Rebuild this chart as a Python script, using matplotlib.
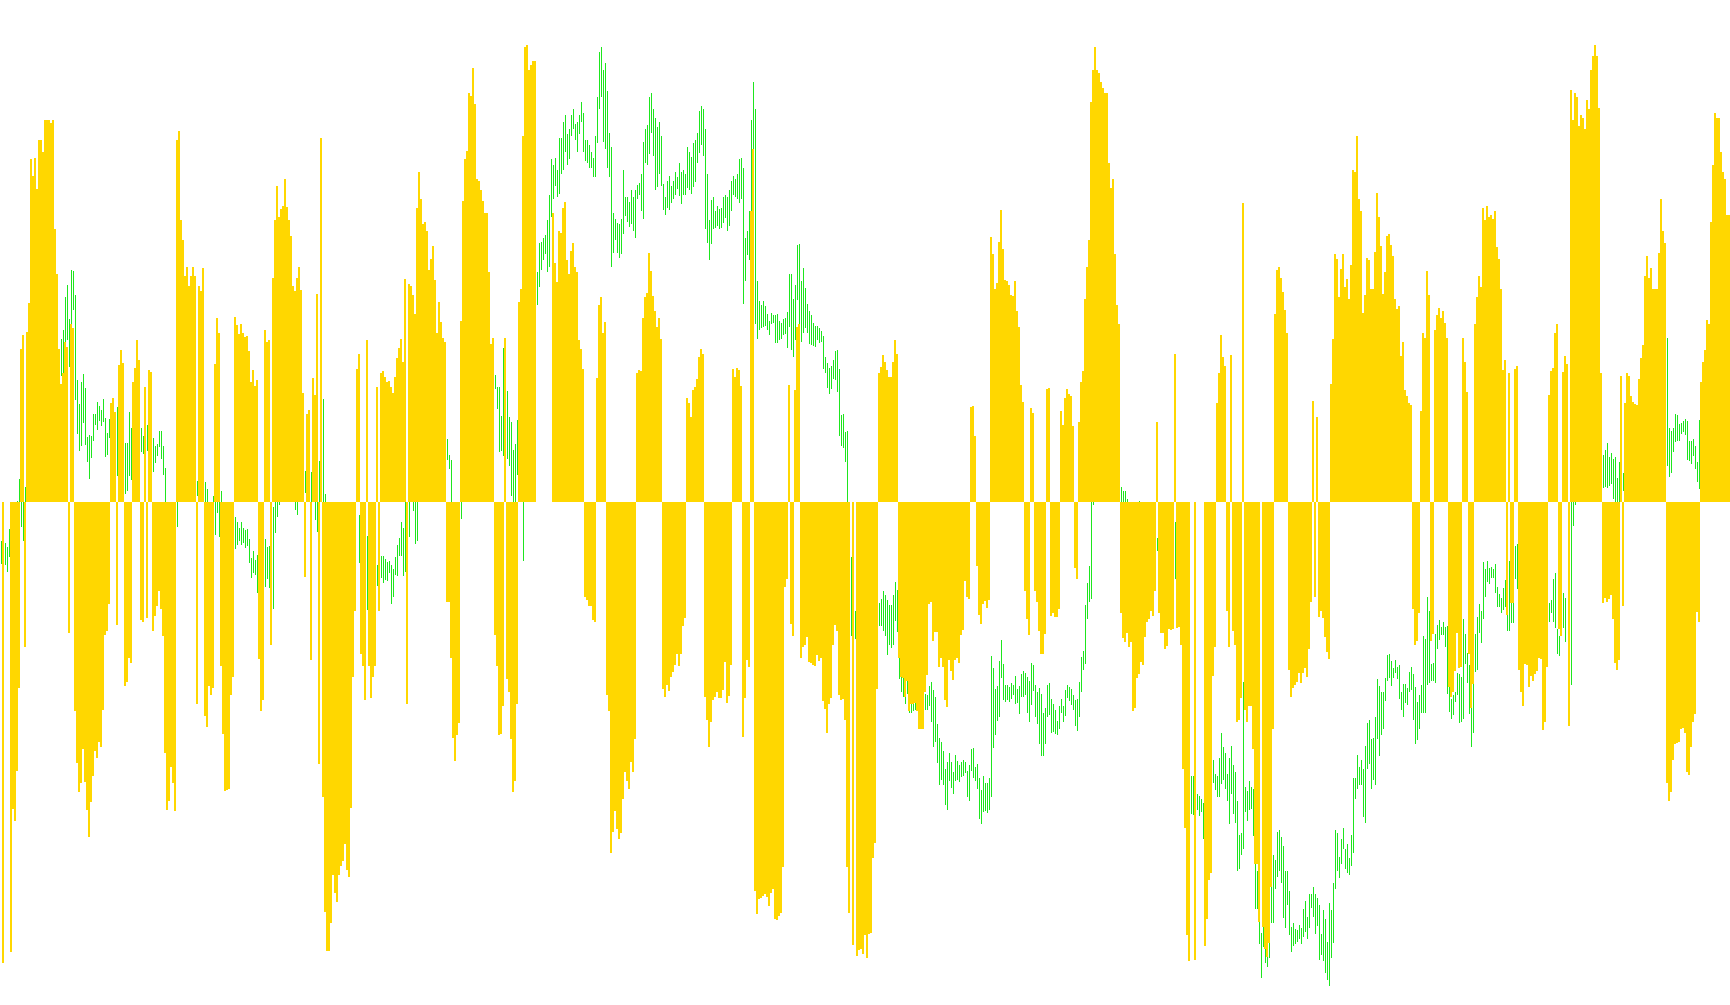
import matplotlib
matplotlib.use("Agg")
import matplotlib.pyplot as plt
import numpy as np

# gold histogram, one value per column, 0 where the column has no gold bar
gold_1 = [0, -718, 0, 0, 0, -701, -478, -496, -418, -290, 239, 261, -225, 266, 311, 534, 509, 537, 488, 564,
          565, 546, 595, 596, 595, 591, 596, 425, 355, 239, 185, 202, 249, 242, -203, 278, 272, -325, -407, -451,
          -437, -385, -436, -479, -521, -467, -427, -387, -399, -374, -381, -323, -207, -200, -159, 154, 163, 141, -191, 214,
          237, 217, -287, -280, -243, -251, 188, 209, 253, 222, -183, -187, 180, -181, 206, 203, -201, -178, -162, -139,
          -167, -209, -390, -479, -465, -412, -437, -481, 564, 579, 440, 409, 353, 367, 337, 353, 367, 352, -315, 337,
          329, 365, -333, -350, -287, -300, -290, 216, 287, 263, -255, -361, -450, -449, -447, -301, -273, 289, 276, 262,
          277, 263, 258, 259, 235, 188, 206, 181, 191, -245, -326, -308, 269, 249, 252, -223, 349, 440, 492, 445,
          457, 462, 503, 460, 439, 415, 337, 329, 349, 367]
gold_2 = [331, 170, -117, 138, 144, -246, 194, 167, 325, -408, 568, -459, -638, -699, -699, -655, -581, -609, -623, -581,
          -567, -559, -532, -573, -584, -476, -273, -170, 207, 231, -237, -255, -308, 252, -255, -305, -273, -255, 180, -169,
          202, 204, 195, 188, 189, 180, 170, 195, 225, 241, 255, 219, 348, -314, 340, 337, 323, 294, 459, 514,
          472, 434, 437, 422, 362, 379, 400, 346, 263, 312, 281, 256, 249, -156, -155, -242, -367, -403, -363, -344,
          283, 470, 535, 548, 638, 633, 676, 620, 504, 501, 487, 470, 450, 451, 358, 247, 256, -207, -255, -363,
          -361, -318, 256, -276, -295, -369, -451, -434, -315, 312, 333, 570, 710, 713, 673, 681, 688, 688, 0, 0,
          0, 0, 0, 0, 0, 0, 450, 372, 343, 423, 420, 459, 468, 378, 356, 391, 404, 367, 359, 252,
          239, 207, -147, -153, -162]
gold_3 = [-161, -184, -186, 194, 308, 319, 264, 281, -300, -325, -546, -513, -481, -509, -524, -515, -462, -421, -434, -446,
          -404, -420, -369, 202, 206, 205, 287, 319, 326, 389, 361, 322, 298, 273, 287, 255, -291, -304, -285, -294,
          -273, -265, -254, -237, -255, -237, -193, -181, 163, 155, 133, 175, 180, 192, 227, 239, 231, -303, -339, -381,
          -343, -308, -304, -296, -305, -305, -293, -249, -313, -302, -253, 207, 195, 209, 206, 181, -365, -305, -246, -256,
          454, 550, -606, -641, -618, -616, -614, -610, -615, -629, -609, -602, -649, -651, -645, -640, -568, -132, -120, 183,
          -189, -208, 175, 273, 278, -242, -226, -223, -210, -249, -251, -253, -255, -238, -247, -242, -309, -322, -359, -315,
          -305, -223, -192, -200, -301, -308, -306, -339, -568, -640, 0, -690, 0, -707, -698, -696, -704, -674, -710, -672,
          -671, -555, -531, -291, 202]
gold_4 = [211, 230, 219, 206, 195, 195, 219, 252, 231, -242, -273, -274, -303, -279, -325, -315, -314, -313, -326, -353,
          -354, -354, -296, -269, -159, -156, -216, -202, -202, -256, -243, -256, -308, -319, -246, -263, -277, -246, -243, -250,
          -207, -199, -123, -148, -150, 149, 150, 103, -99, -176, -190, -159, -154, -164, -153, 414, 387, 333, 342, 405,
          456, 395, 347, 345, 338, 323, 321, 345, 298, 273, 183, 156, -138, -182, -207, 147, 139, -139, -155, -201,
          -236, -236, -206, 177, 178, -177, -173, -179, -179, -166, 142, 120, 163, 177, 168, 166, 119, -103, -120, 125,
          188, 205, 317, 367, 409, 624, 674, 709, 673, 668, 654, 646, 637, 638, 528, 489, 503, 387, 308, 278,
          -173, -212, -217, -203, -225, -217, -326, -320, -274, -267, -249, -253, -210, -186, -182, -169, -178, -139, 125, -173,
          -204, -204, -229, -224, -198]
gold_5 = [-199, -197, 231, -196, -195, -223, -415, -507, -674, -715, 0, 0, -713, 0, 0, 0, 0, -691, -649, -588,
          -577, -270, -226, 154, 202, 261, 227, 212, -169, -226, 230, -201, -223, -343, -340, -305, 467, -323, -342, -318,
          -318, -385, -563, -563, -654, 0, -661, -696, -708, -686, -599, -354, 293, 362, 367, 350, 328, 300, 263, -261,
          -304, -289, -284, -280, -266, -281, -266, -259, -273, -228, -155, 158, -147, 133, -179, -170, -181, -210, -234, -244,
          184, 255, 386, 379, 320, 364, 387, 336, 348, 317, 370, 517, 515, 570, 472, 454, 295, 323, 381, 378,
          333, 333, 390, 482, 445, 400, 325, 359, 415, 418, 401, 384, 317, 301, 306, 228, 250, 175, 166, 155,
          152, -166, -222, -216, -173, 142, 263, 256, 361, 323, -216, -206, 269, 291, 303]
gold_6 = [287, 298, 280, 256, -288, -303, -295, -263, -204, -258, -256, 256, 219, 172, -237, -321, -283, 278, 320, 353,
          335, 459, 440, 462, 444, 447, 442, 454, 397, 379, 333, 206, 222, -175, 202, -157, -157, 208, 213, -261,
          -295, -318, -252, -254, -288, -270, -278, -267, -263, -243, -245, -355, -343, -257, 167, 205, 209, 264, 278, -198,
          -208, 203, 228, 216, -349, 642, 595, 637, 632, 586, 604, 598, 582, 626, 612, 673, 696, 713, 696, 615,
          202, -157, -149, -155, -151, -145, -182, -251, -261, -246, 197, -161, 154, 202, 197, 166, 156, 153, 151, 192,
          225, 245, 353, 383, 349, 365, 332, 332, 332, 389, 473, 423, 404, -437, -465, -451, -402, -376, -375, -373,
          -354, -352, -359, -421, -425, -381, -343, -330, -171, -186, 188, 219, 237, 284, 277, 437, 525, 607, 599, 598,
          546, 515, 504, 447, 448]

# green oscillator candles where they are visible: (column, high, low)
green_1 = [(0, -61, -96), (2, -64, -98), (3, -69, -109), (4, -42, -85), (8, 2, 0), (9, 36, 0), (10, 0, -39), (11, 0, -60), (12, 24, 0),
           (30, 255, 197), (31, 268, 202), (32, 319, 249), (33, 339, 252), (34, 286, 211), (35, 362, 278), (36, 360, 300), (37, 323, 160),
           (38, 191, 107), (39, 153, 80), (40, 188, 87), (41, 200, 123), (42, 178, 89), (43, 102, 63), (44, 105, 36), (45, 103, 69),
           (46, 138, 96), (47, 138, 120), (48, 156, 112), (49, 150, 127), (50, 144, 119), (51, 161, 125), (52, 131, 71), (53, 108, 74),
           (54, 130, 100), (58, 149, 41), (62, 92, 13), (63, 92, 18), (64, 141, 41), (65, 116, 35), (70, 116, 78), (71, 103, 75),
           (73, 120, 80), (76, 100, 47), (77, 88, 61), (78, 91, 72), (79, 111, 86), (80, 111, 67), (81, 88, 42), (82, 53, 0),
           (88, 0, -39), (98, 33, 10), (102, 32, 0), (103, 21, 0), (106, 10, 0), (107, 0, -51), (108, 0, -17), (109, 0, -54), (110, 18, 0),
           (117, -23, -73), (118, -31, -67), (119, -40, -61), (120, -31, -67), (121, -40, -64), (122, -43, -71), (123, -42, -68),
           (124, -57, -95), (125, -87, -118), (126, -76, -111), (127, -90, -113), (128, -82, -142), (132, -57, -132), (133, -70, -120),
           (134, -68, -134), (136, -7, -167), (137, 0, -48), (138, 0, -23), (139, 0, -4), (147, 0, -12), (148, 0, -20)]
green_2 = [(152, 49, 14), (155, 47, 0), (157, 0, -28), (158, 0, -47), (159, 64, 0), (161, 161, 0), (162, 13, 0), (177, -64, -153), (179, -20, -95),
           (183, -53, -168), (188, -98, -130), (190, -84, -118), (191, -84, -126), (192, -89, -121), (193, -93, -123), (194, -92, -110),
           (195, -98, -159), (196, -104, -148), (197, -86, -113), (198, -67, -115), (199, -56, -84), (200, -31, -83), (201, -40, -115),
           (202, 0, -109), (204, 0, -54), (206, 0, -14), (207, 0, -65), (208, 0, -61), (223, 99, 66), (224, 74, 52), (225, 66, 0), (230, 0, -26),
           (247, 198, 177), (248, 180, 145), (249, 180, 78), (250, 135, 80), (251, 241, 72), (253, 174, 67), (254, 133, 57), (255, 125, 10),
           (256, 81, 0), (257, 91, 0), (258, 128, 42), (261, 0, -91), (268, 358, 308), (269, 404, 335), (270, 406, 362), (271, 411, 377),
           (272, 417, 386), (273, 440, 358), (274, 478, 367), (275, 534, 444), (276, 525, 472), (277, 537, 492), (278, 518, 476), (279, 568, 480),
           (280, 567, 511), (281, 592, 518), (282, 603, 545), (283, 573, 526), (284, 582, 535), (285, 604, 570), (286, 613, 581), (287, 590, 564),
           (288, 593, 546), (289, 603, 573), (290, 623, 593), (291, 607, 545), (292, 564, 531), (293, 564, 528), (294, 556, 521)]
green_3 = [(295, 545, 521), (296, 537, 507), (297, 571, 507), (298, 631, 560), (299, 701, 613), (300, 709, 632), (301, 673, 562), (302, 684, 550),
           (303, 641, 520), (304, 576, 506), (305, 554, 367), (306, 451, 389), (307, 442, 408), (308, 435, 389), (309, 434, 381), (310, 442, 386),
           (311, 517, 418), (312, 475, 446), (313, 476, 437), (314, 468, 429), (315, 486, 434), (316, 476, 422), (317, 486, 411), (318, 495, 472),
           (319, 498, 478), (320, 511, 453), (321, 562, 442), (322, 581, 528), (323, 587, 526), (324, 632, 542), (325, 637, 576), (326, 613, 540),
           (327, 598, 486), (328, 585, 491), (329, 592, 512), (330, 571, 493), (331, 496, 456), (332, 476, 448), (333, 500, 459), (334, 509, 455),
           (335, 493, 467), (336, 501, 472), (337, 514, 478), (338, 506, 488), (339, 529, 477), (340, 515, 464), (341, 518, 478), (342, 512, 479),
           (343, 553, 490), (344, 546, 486), (345, 538, 481), (346, 560, 491), (347, 565, 499), (348, 576, 529), (349, 609, 544), (350, 617, 557),
           (351, 613, 539), (352, 581, 426), (353, 511, 404), (354, 439, 378), (355, 471, 403), (356, 476, 425), (357, 453, 428), (358, 462, 430),
           (359, 457, 426), (360, 458, 427), (361, 475, 435), (362, 479, 443), (363, 476, 422), (364, 486, 430), (365, 500, 454), (366, 509, 479),
           (367, 503, 476), (368, 512, 472), (369, 534, 467), (370, 537, 473), (371, 521, 309), (372, 411, 345), (373, 422, 385), (374, 453, 378),
           (375, 595, 454), (376, 654, 550), (377, 613, 277), (378, 344, 254), (379, 314, 269), (380, 308, 271), (381, 314, 273), (382, 306, 274),
           (383, 293, 269), (384, 282, 261), (385, 295, 277), (386, 291, 279), (387, 292, 248), (388, 294, 248), (389, 282, 252), (390, 280, 255),
           (391, 285, 260), (392, 287, 262), (393, 297, 240), (394, 356, 273), (395, 356, 237), (396, 316, 227), (397, 339, 253), (398, 401, 315),
           (399, 403, 278), (400, 344, 250), (401, 365, 264), (402, 334, 272), (403, 309, 263), (404, 298, 246), (405, 291, 245), (406, 280, 244),
           (407, 275, 242), (408, 275, 252), (409, 272, 248), (410, 267, 249), (411, 259, 208), (412, 227, 202), (413, 217, 178), (414, 209, 169),
           (415, 213, 177), (416, 221, 192), (417, 236, 190), (418, 237, 172), (419, 208, 103), (420, 136, 88), (421, 137, 85), (422, 110, 63),
           (423, 111, 0), (425, -85, -208), (427, -170, -213), (439, -157, -193)]
green_4 = [(440, -151, -193), (441, -139, -201), (442, -145, -209), (443, -153, -238), (444, -160, -223), (445, -160, -227), (446, -145, -223),
           (447, -124, -185), (448, -137, -202), (449, -242, -276), (450, -273, -296), (451, -274, -303), (452, -303, -315), (453, -279, -298),
           (454, -325, -328), (455, -315, -328), (456, -314, -326), (457, -313, -323), (462, -298, -323), (463, -301, -323), (464, -287, -317),
           (465, -280, -343), (466, -293, -381), (467, -304, -373), (468, -346, -407), (469, -368, -441), (470, -373, -432), (471, -387, -441),
           (472, -416, -472), (473, -405, -480), (474, -390, -435), (475, -405, -445), (476, -421, -455), (477, -394, -435), (478, -403, -432),
           (479, -410, -436), (480, -404, -428), (481, -402, -426), (482, -405, -422), (483, -418, -460), (484, -409, -466), (485, -385, -419),
           (486, -383, -430), (487, -413, -435), (488, -408, -446), (489, -430, -493), (490, -448, -502), (491, -427, -483), (492, -437, -481),
           (493, -437, -484), (494, -430, -480), (495, -240, -460), (496, -259, -383), (497, -291, -363), (498, -287, -341), (499, -248, -335),
           (500, -215, -274), (501, -252, -308), (502, -284, -312), (503, -284, -308), (504, -288, -312), (505, -282, -307), (506, -284, -301),
           (507, -270, -314), (508, -291, -313), (509, -287, -330), (510, -268, -304), (511, -263, -303), (512, -266, -301), (513, -273, -329),
           (514, -279, -343), (515, -250, -316), (516, -254, -294), (517, -284, -335), (518, -295, -346), (519, -290, -376), (520, -299, -396),
           (521, -329, -396), (522, -321, -377), (523, -284, -334), (524, -282, -332), (525, -307, -359), (526, -315, -358), (527, -323, -361),
           (528, -341, -362), (529, -318, -354), (530, -306, -328), (531, -318, -343), (532, -293, -333), (533, -284, -305), (534, -288, -310),
           (535, -291, -316), (536, -301, -323), (537, -308, -348), (538, -307, -357), (539, -280, -334), (540, -241, -296), (541, -231, -262),
           (542, -160, -252), (543, -126, -182), (544, -100, -156), (545, 0, -151), (546, 0, -4), (560, 24, 0), (561, 18, 0), (562, 18, 0),
           (563, 5, 0), (569, 2, 0), (578, -56, -76)]
green_5 = [(587, -31, -120), (595, -427, -486), (596, -426, -488), (598, -455, -480), (599, -458, -489), (600, -462, -483), (601, -469, -525),
           (606, -402, -437), (607, -423, -449), (608, -427, -460), (609, -398, -460), (610, -360, -439), (611, -382, -432), (612, -391, -447),
           (613, -424, -465), (614, -398, -502), (615, -380, -454), (616, -410, -486), (617, -421, -499), (618, -466, -574), (619, -518, -572),
           (620, -515, -550), (621, -280, -541), (622, -443, -483), (623, -450, -496), (624, -435, -480), (625, -443, -478), (626, -446, -520),
           (627, -563, -633), (628, -575, -633), (629, -654, -689), (630, -671, -742), (631, -661, -693), (632, -696, -718), (633, -708, -724),
           (634, -686, -710), (635, -599, -655), (636, -549, -655), (637, -557, -602), (638, -513, -584), (639, -511, -574), (640, -522, -594),
           (641, -535, -648), (642, -575, -663), (643, -575, -628), (644, -605, -674), (645, -662, -700), (646, -656, -691), (647, -665, -688),
           (648, -666, -685), (649, -658, -680), (650, -664, -688), (651, -633, -677), (652, -622, -669), (653, -646, -681), (654, -611, -664),
           (655, -610, -632), (656, -600, -646), (657, -610, -672), (658, -616, -660), (659, -628, -713), (660, -672, -705), (661, -635, -714),
           (662, -650, -733), (663, -685, -745), (664, -624, -753), (665, -635, -710), (666, -593, -686), (667, -510, -602), (668, -515, -575),
           (669, -552, -585), (670, -524, -563), (671, -508, -540), (672, -540, -572), (673, -533, -578), (674, -554, -580), (675, -519, -566),
           (676, -429, -546), (677, -429, -463), (678, -394, -447), (679, -413, -441), (680, -401, -440), (681, -416, -490), (682, -380, -500),
           (683, -344, -415), (684, -340, -408), (685, -369, -447), (686, -368, -433), (687, -335, -440), (688, -276, -369), (689, -287, -395),
           (690, -295, -362), (691, -296, -354), (692, -274, -310), (693, -238, -278), (694, -237, -274), (695, -248, -286), (696, -259, -274),
           (697, -246, -266), (698, -257, -276), (699, -254, -306), (700, -295, -324), (701, -283, -334), (702, -283, -313), (703, -290, -316),
           (704, -264, -296), (705, -257, -292), (706, -268, -340), (707, -288, -376), (708, -312, -370), (709, -301, -354), (710, -284, -328),
           (711, -209, -328), (712, -213, -328), (713, -148, -284), (714, -170, -282), (715, -252, -278), (716, -251, -278), (717, -206, -282),
           (718, -191, -228), (719, -184, -214)]
green_6 = [(720, -195, -207), (721, -187, -207), (722, -195, -226), (723, -193, -298), (724, -288, -327), (725, -307, -338), (726, -300, -332),
           (727, -295, -312), (728, -266, -300), (729, -268, -344), (730, -273, -343), (731, -182, -337), (732, -206, -252), (733, -235, -282),
           (734, -254, -330), (735, -321, -382), (736, -283, -359), (737, -206, -265), (738, -179, -262), (739, -159, -204), (740, -170, -220),
           (741, -93, -182), (742, -104, -148), (743, -92, -124), (744, -102, -128), (745, -101, -118), (746, -104, -118), (747, -96, -141),
           (748, -132, -163), (749, -143, -163), (750, -149, -173), (751, -134, -168), (752, -121, -163), (753, -175, -201), (754, -92, -201),
           (755, -157, -188), (756, -157, -188), (757, -68, -119), (758, -65, -135), (773, -182, -226), (774, -157, -186), (775, -153, -173),
           (776, -120, -186), (777, -110, -196), (778, -198, -237), (779, -208, -239), (780, -157, -206), (781, -142, -196), (782, -149, -217),
           (785, 0, -284), (786, 0, -37), (787, 0, -4), (801, 74, 22), (802, 81, 24), (803, 92, 22), (804, 71, 25), (805, 77, 28), (806, 67, 5),
           (807, 71, 0), (808, 38, 0), (809, 63, 0), (811, 46, 18), (833, 256, 57), (834, 116, 40), (835, 111, 46), (836, 116, 78), (837, 138, 94),
           (838, 136, 95), (839, 122, 96), (840, 124, 107), (841, 126, 110), (842, 130, 105), (843, 127, 66), (844, 95, 64), (845, 95, 60),
           (846, 99, 72), (847, 88, 52), (848, 63, 32), (849, 128, 21)]

gold = np.array(gold_1 + gold_2 + gold_3 + gold_4 + gold_5 + gold_6)
green = np.array(green_1 + green_2 + green_3 + green_4 + green_5 + green_6)

fig = plt.figure(figsize=(17.30, 10.05), dpi=100)
ax = fig.add_axes([0, 0, 1, 1])

cols = np.arange(len(gold))
ax.bar(green[:, 0] + 0.5, green[:, 1] - green[:, 2], bottom=green[:, 2], width=0.5, align="edge",
       color="#1EE61E", linewidth=0, antialiased=False, zorder=1)
ax.bar(cols, gold, width=1, align="edge", color="#FFD700", linewidth=0, antialiased=False, zorder=2)

ax.set_xlim(0, 865)
ax.set_ylim(-783.3, 782.5)
ax.axis("off")

fig.savefig("out.png", dpi=100, facecolor="white")
